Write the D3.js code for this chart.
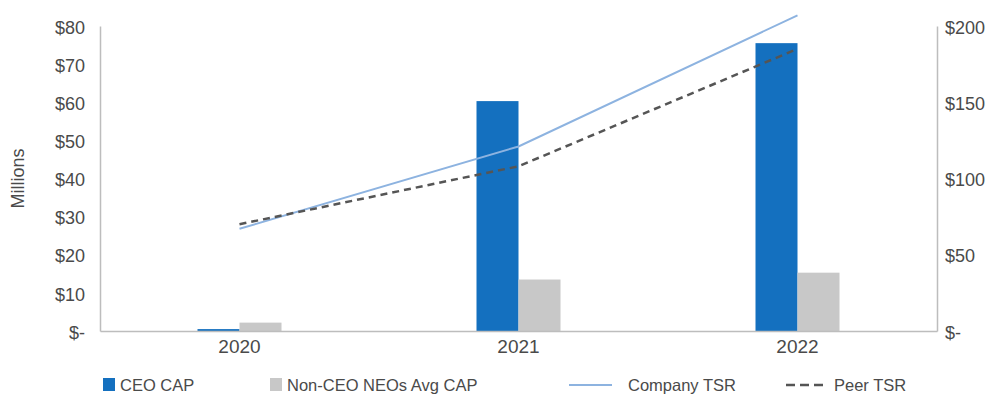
<!DOCTYPE html>
<html>
<head>
<meta charset="utf-8">
<script src="https://cdn.jsdelivr.net/npm/d3@7"></script>
<style>
  body { margin: 0; background: #fff; }
  svg { font-family: "Liberation Sans", Arial, sans-serif; }
</style>
</head>
<body>
<svg id="chart"></svg>
<script>
const width = 997;
const height = 396;

const years = ['2020', '2021', '2022'];
const ceoCap = [0.5, 60.3, 75.5];
const neoCap = [2.2, 13.5, 15.3];
const companyTsr = [67, 121, 207];
const peerTsr = [70, 108, 185];
const leftTicks = [0, 10, 20, 30, 40, 50, 60, 70, 80];
const rightTicks = [0, 50, 100, 150, 200];

const plotLeft = 100, plotRight = 937, plotTop = 26, plotBottom = 331;

const svg = d3.select('#chart').attr('width', width).attr('height', height);

const x = d3.scaleBand().domain(years).range([plotLeft, plotRight]).padding(0);
const xSub = d3.scaleBand().domain(['ceo', 'neo']).range([-42, 42]).padding(0);
const y = d3.scaleLinear().domain([0, 80]).range([plotBottom, plotTop]);
const y2 = d3.scaleLinear().domain([0, 200]).range([plotBottom, plotTop]);

const money = d => d === 0 ? '$-' : '$' + d;

// bars
const groups = svg.selectAll('.grp').data(years).enter().append('g')
    .attr('transform', d => `translate(${x(d) + x.bandwidth() / 2},0)`);

groups.append('rect')
    .attr('x', xSub('ceo'))
    .attr('width', xSub.bandwidth())
    .attr('y', (d, i) => y(ceoCap[i]))
    .attr('height', (d, i) => plotBottom - y(ceoCap[i]))
    .attr('fill', '#1470BF');

groups.append('rect')
    .attr('x', xSub('neo'))
    .attr('width', xSub.bandwidth())
    .attr('y', (d, i) => y(neoCap[i]))
    .attr('height', (d, i) => plotBottom - y(neoCap[i]))
    .attr('fill', '#C8C8C8');

// axes
const yAxis = svg.append('g').attr('transform', `translate(${plotLeft},0)`)
    .call(d3.axisLeft(y).tickValues(leftTicks).tickFormat(money).tickSize(0).tickPadding(15));
const y2Axis = svg.append('g').attr('transform', `translate(${plotRight},0)`)
    .call(d3.axisRight(y2).tickValues(rightTicks).tickFormat(money).tickSize(0).tickPadding(8));
const xAxis = svg.append('g').attr('transform', `translate(0,${plotBottom})`)
    .call(d3.axisBottom(x).tickSize(0).tickPadding(8));

[yAxis, y2Axis, xAxis].forEach(a => {
  a.select('.domain').attr('stroke', '#BDBDBD').attr('stroke-width', 1.5);
  a.selectAll('text').attr('fill', '#4a4a4a').style('font-size', '18px');
});
yAxis.selectAll('text').attr('dy', '0.4em');
y2Axis.selectAll('text').attr('dy', '0.4em');
xAxis.selectAll('text').attr('dy', '0.75em').style('font-size', '19px');

svg.append('text')
    .attr('transform', `translate(24,${(plotTop + plotBottom) / 2}) rotate(-90)`)
    .attr('text-anchor', 'middle')
    .attr('fill', '#4a4a4a')
    .style('font-size', '18px')
    .text('Millions');

// lines
const line = d3.line()
    .x((d, i) => x(years[i]) + x.bandwidth() / 2)
    .y(d => y2(d));

svg.append('path').datum(companyTsr)
    .attr('fill', 'none')
    .attr('stroke', '#8DB3E0')
    .attr('stroke-width', 2)
    .attr('d', line);

svg.append('path').datum(peerTsr)
    .attr('fill', 'none')
    .attr('stroke', '#555')
    .attr('stroke-width', 2.5)
    .attr('stroke-dasharray', '7,5')
    .attr('d', line);

// legend
const legend = svg.append('g').attr('transform', 'translate(0,384)');
const legItems = [
  {label: 'CEO CAP', x: 103, type: 'rect', color: '#1470BF'},
  {label: 'Non-CEO NEOs Avg CAP', x: 270, type: 'rect', color: '#C8C8C8'},
  {label: 'Company TSR', x: 569, type: 'line', color: '#8DB3E0'},
  {label: 'Peer TSR', x: 786, type: 'dash', color: '#555'}
];
legItems.forEach(d => {
  const g = legend.append('g').attr('transform', `translate(${d.x},0)`);
  let tx;
  if (d.type === 'rect') {
    g.append('rect').attr('x', 0).attr('y', -6).attr('width', 12).attr('height', 13).attr('fill', d.color);
    tx = 17;
  } else if (d.type === 'line') {
    g.append('line').attr('x1', 0).attr('x2', 43).attr('y1', 1).attr('y2', 1)
      .attr('stroke', d.color).attr('stroke-width', 2);
    tx = 59;
  } else {
    g.append('line').attr('x1', 0).attr('x2', 37).attr('y1', 1).attr('y2', 1)
      .attr('stroke', d.color).attr('stroke-width', 2.5)
      .attr('stroke-dasharray', '9,5');
    tx = 48;
  }
  g.append('text').attr('x', tx).attr('y', 1).attr('dy', '0.36em')
    .attr('fill', '#4a4a4a').style('font-size', '16.5px').text(d.label);
});
</script>
</body>
</html>
